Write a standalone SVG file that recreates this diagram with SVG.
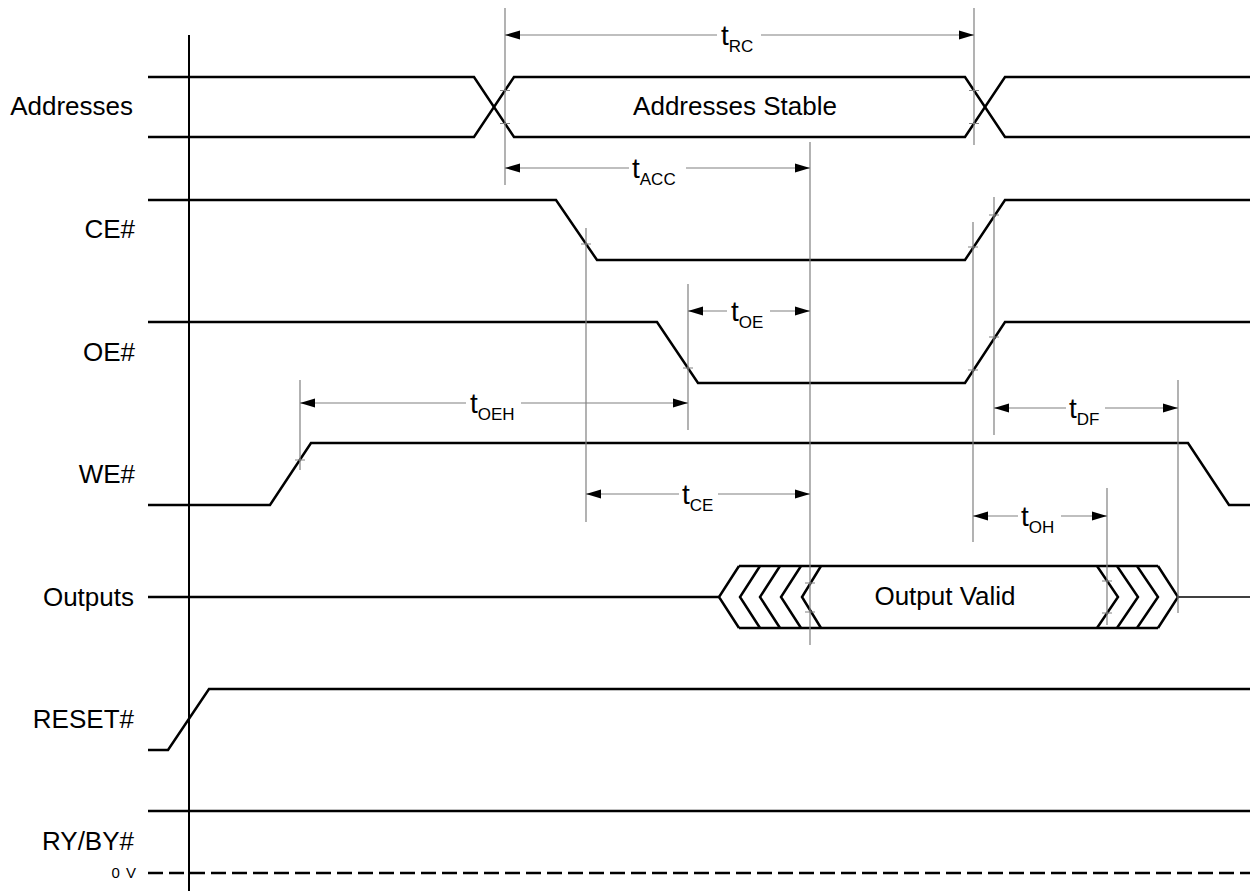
<svg xmlns="http://www.w3.org/2000/svg" width="1250" height="891" viewBox="0 0 1250 891">
<defs>
<style>
.sig{fill:none;stroke:#000;stroke-width:2.5;stroke-linejoin:miter}
.axis{fill:none;stroke:#000;stroke-width:2}
.guide{fill:none;stroke:#808080;stroke-width:1.2}
.dim{fill:none;stroke:#808080;stroke-width:1.2}
.lbl{font-family:"Liberation Sans",Arial,sans-serif;font-size:26px;fill:#000}
.tl{font-family:"Liberation Sans",Arial,sans-serif;font-size:28px;fill:#000}
.sub{font-size:17px}
.small{font-family:"Liberation Sans",Arial,sans-serif;font-size:15px;fill:#000}
</style>
<marker id="arr" viewBox="0 0 15 10" refX="15" refY="5" markerWidth="15" markerHeight="10" markerUnits="userSpaceOnUse" orient="auto-start-reverse">
<path d="M0,0.5 L15,5 L0,9.5 z" fill="#000"/>
</marker>
</defs>
<rect width="1250" height="891" fill="#fff"/>

<line class="axis" x1="189" y1="35" x2="189" y2="891"/>

<g id="addresses">
<text class="lbl" x="133" y="115" text-anchor="end">Addresses</text>
<path class="sig" d="M148,77 H474 L514,137 H965 L1005,77 H1250"/>
<path class="sig" d="M148,137 H474 L514,77 H965 L1005,137 H1250"/>
<text class="lbl" x="735" y="115" text-anchor="middle">Addresses Stable</text>
</g>

<g id="ce">
<text class="lbl" x="135" y="238" text-anchor="end">CE#</text>
<path class="sig" d="M148,200 H556 L597,260 H965 L1005,200 H1250"/>
</g>

<g id="oe">
<text class="lbl" x="135" y="361" text-anchor="end">OE#</text>
<path class="sig" d="M148,322 H657 L698,383 H965 L1005,322 H1250"/>
</g>

<g id="we">
<text class="lbl" x="135" y="483" text-anchor="end">WE#</text>
<path class="sig" d="M148,505 H270 L311,443 H1188 L1229,505 H1250"/>
</g>

<g id="outputs">
<text class="lbl" x="134" y="606" text-anchor="end">Outputs</text>
<path class="sig" d="M148,597 H719"/>
<path class="sig" d="M739,566 H1158 M739,628 H1158"/>
<path class="sig" d="M739,566 L719,597 L739,628 M760,566 L740,597 L760,628 M780,566 L760,597 L780,628 M801,566 L781,597 L801,628 M821,566 L802,597 L821,628"/>
<path class="sig" d="M1097,566 L1118,597 L1097,628 M1117,566 L1138,597 L1117,628 M1137,566 L1158,597 L1137,628 M1158,566 L1178,597 L1158,628"/>
<path fill="none" stroke="#000" stroke-width="1.5" d="M1178,597 H1250"/>
<text class="lbl" x="945" y="605" text-anchor="middle">Output Valid</text>
</g>

<g id="reset">
<text class="lbl" x="134" y="728" text-anchor="end">RESET#</text>
<path class="sig" d="M148,750 H168 L209,689 H1250"/>
</g>

<g id="rybY">
<text class="lbl" x="134" y="850" text-anchor="end">RY/BY#</text>
<path class="sig" d="M148,811 H1250"/>
<text class="small" x="137" y="878" text-anchor="end" letter-spacing="1">0 V</text>
<path class="sig" stroke-dasharray="15 6" d="M148,873 H1250"/>
</g>

<g id="connectors">
<path class="guide" d="M505,8 V185 M974,8 V145 M810,142 V645 M586,228 V522 M688,284 V430 M973,222 V542 M994,197 V435 M300,380 V470 M1178,380 V613 M1107,488 V625"/>
<path class="guide" d="M500,90.5 H510 M500,123.5 H510 M969,90.5 H979 M969,123.5 H979 M581,244 H591 M683,368 H693 M968,247 H978 M968,370 H978 M989,215 H999 M989,337 H999 M295,460 H305 M805,583 H815 M805,612 H815 M1102,581 H1112 M1102,613 H1112"/>

<line class="dim" x1="717" y1="35" x2="505" y2="35" marker-end="url(#arr)"/>
<line class="dim" x1="761" y1="35" x2="974" y2="35" marker-end="url(#arr)"/>
<text class="tl" x="721" y="45">t<tspan class="sub" dy="7">RC</tspan></text>

<line class="dim" x1="629" y1="168" x2="505" y2="168" marker-end="url(#arr)"/>
<line class="dim" x1="686" y1="168" x2="810" y2="168" marker-end="url(#arr)"/>
<text class="tl" x="632" y="178">t<tspan class="sub" dy="7">ACC</tspan></text>

<line class="dim" x1="727" y1="311" x2="688" y2="311" marker-end="url(#arr)"/>
<line class="dim" x1="770" y1="311" x2="810" y2="311" marker-end="url(#arr)"/>
<text class="tl" x="731" y="321">t<tspan class="sub" dy="7">OE</tspan></text>

<line class="dim" x1="466" y1="403" x2="300" y2="403" marker-end="url(#arr)"/>
<line class="dim" x1="521" y1="403" x2="688" y2="403" marker-end="url(#arr)"/>
<text class="tl" x="470" y="413">t<tspan class="sub" dy="7">OEH</tspan></text>

<line class="dim" x1="1066" y1="408" x2="994" y2="408" marker-end="url(#arr)"/>
<line class="dim" x1="1105" y1="408" x2="1178" y2="408" marker-end="url(#arr)"/>
<text class="tl" x="1069" y="418">t<tspan class="sub" dy="7">DF</tspan></text>

<line class="dim" x1="679" y1="494" x2="586" y2="494" marker-end="url(#arr)"/>
<line class="dim" x1="718" y1="494" x2="810" y2="494" marker-end="url(#arr)"/>
<text class="tl" x="682" y="504">t<tspan class="sub" dy="7">CE</tspan></text>

<line class="dim" x1="1018" y1="516" x2="973" y2="516" marker-end="url(#arr)"/>
<line class="dim" x1="1061" y1="516" x2="1107" y2="516" marker-end="url(#arr)"/>
<text class="tl" x="1021" y="526">t<tspan class="sub" dy="7">OH</tspan></text>
</g>
</svg>
